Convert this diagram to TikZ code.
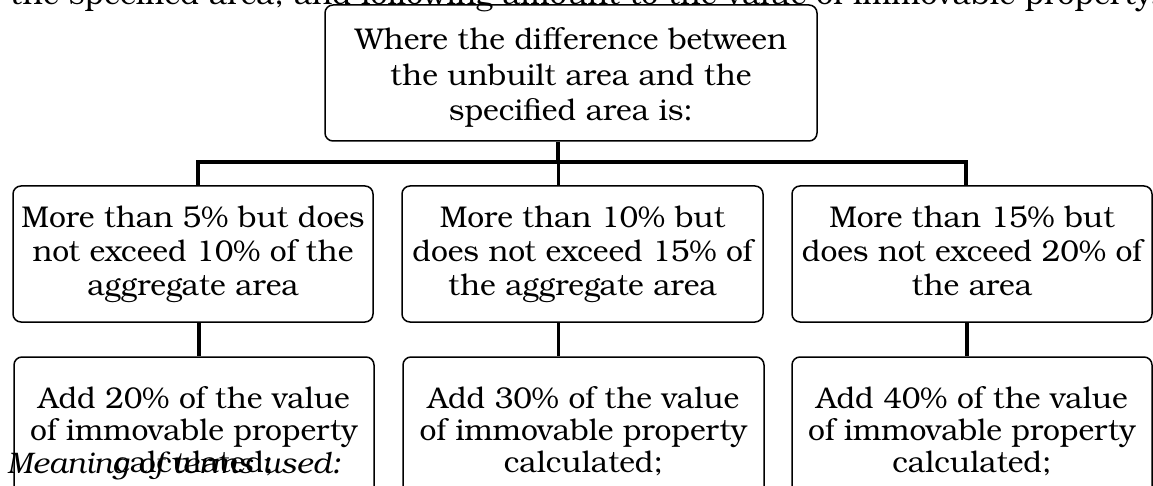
\documentclass[tikz,border=0pt]{standalone}
\usepackage{fontspec}
\setmainfont{TeX Gyre Bonum}
\begin{document}
\begin{tikzpicture}[x=1pt,y=-1pt,
  box/.style={draw, line width=1.5pt, rounded corners=8pt, align=center,
    inner sep=0pt, minimum height=136pt, font=\fontsize{30}{34}\selectfont},
  conn/.style={line width=3.5pt},
  txt/.style={inner sep=0pt, font=\fontsize{30}{34}\selectfont}]
\useasboundingbox (0,0) rectangle (1153,486);
\clip (0,0) rectangle (1153,486);
\fill[white] (0,0) rectangle (1153,486);

% running text above the chart
\node[txt, anchor=base west, font=\fontsize{30.8}{34}\selectfont] (lead) at (10,5)
  {the specified area, and following amount to the value of immovable property.};

% decision boxes
\node[box, minimum width=492pt, minimum height=136pt, font=\fontsize{30}{35.5}\selectfont,
  text depth=0pt] (top) at (571,73)
  {\strut Where the difference between\\the unbuilt area and the\\specified area is:};
\node[box, minimum width=360pt] (l1) at (193,254)
  {More than 5\% but does\\not exceed 10\% of the\\aggregate area};
\node[box, minimum width=361pt] (m1) at (582.5,254)
  {More than 10\% but\\does not exceed 15\% of\\the aggregate area};
\node[box, minimum width=360pt] (r1) at (972,254)
  {More than 15\% but\\does not exceed 20\% of\\the area\vphantom{g}};

% result boxes
\tikzset{result/.style={box, minimum height=148pt, font=\fontsize{30}{32}\selectfont}}
\node[result, minimum width=360pt] (l2) at (194,431)
  {Add 20\% of the value\\of immovable property\\calculated;};
\node[result, minimum width=361pt] (m2) at (583.5,431)
  {Add 30\% of the value\\of immovable property\\calculated;};
\node[result, minimum width=360pt] (r2) at (972,431)
  {Add 40\% of the value\\of immovable property\\calculated;};

% bus bar
\coordinate (busL) at (198,162);
\coordinate (busR) at (966,162);
\draw[conn] ([xshift=-13pt]top.south) -- ([xshift=-13pt]top.south |- busL);
\draw[conn] (busL |- l1.north) -- (busL) -- (busR) -- (busR |- r1.north);
\draw[conn] ([xshift=-24pt]m1.north) -- ([xshift=-24pt]m1.north |- busL);

% links to the results
\draw[conn] ([xshift=6pt]l1.south) -- ([xshift=6pt]l1.south |- l2.north);
\draw[conn] ([xshift=-24pt]m1.south) -- ([xshift=-24pt]m1.south |- m2.north);
\draw[conn] ([xshift=-5pt]r1.south) -- ([xshift=-5pt]r1.south |- r2.north);

% running text below the chart
\node[txt, anchor=base west, font=\fontsize{29.7}{34}\selectfont\itshape] (terms) at (7,473)
  {Meaning of terms used:};
\end{tikzpicture}
\end{document}
